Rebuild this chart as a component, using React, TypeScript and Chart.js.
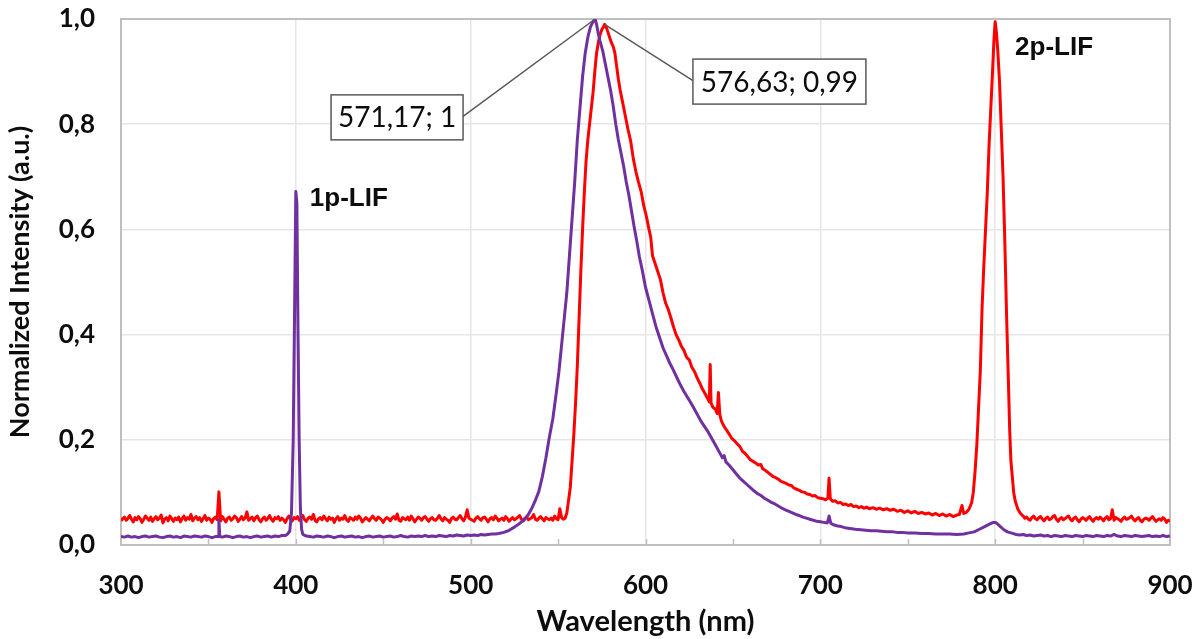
import React, { useEffect, useRef } from 'react';
import { Chart, registerables } from 'chart.js';

Chart.register(...registerables);

// ---------- data ----------
const xTickValues = [300, 400, 500, 600, 700, 800, 900];
const yTickValues = [0, 0.2, 0.4, 0.6, 0.8, 1.0];

// 1p-LIF excitation spectrum (purple): [wavelength nm, normalized intensity]
const purpleBaselineLeft: [number, number][] = [
  [300, .016], [302, .015], [304, .017], [306, .015], [308, .016], [310, .014], [312, .016], [314, .017],
  [316, .015], [318, .016], [320, .017], [322, .015], [324, .014], [326, .016], [328, .017], [330, .015],
  [332, .016], [334, .014], [336, .017], [338, .016], [340, .015], [342, .017], [344, .016], [346, .015],
  [348, .017], [350, .016], [352, .014], [354, .016], [355.5, .016], [356, .048], [356.5, .016], [358, .015],
  [360, .017], [362, .016], [364, .014], [366, .016], [368, .017], [370, .015], [372, .016], [374, .014],
  [376, .016], [378, .017], [380, .015], [382, .016], [384, .017], [386, .015], [388, .017], [390, .016],
  [392, .018], [394, .018], [395, .020],
];
const purpleLaserLine: [number, number][] = [
  [396.5, .026], [397.5, .06], [398.5, .2], [399.3, .45], [400, .672], [400.6, .65], [401.2, .42], [401.9, .2],
  [402.6, .07], [403.3, .03], [404, .02],
];
const purpleBaselineMid: [number, number][] = [
  [406, .017], [408, .016], [410, .015], [412, .017], [414, .016], [416, .015], [418, .017], [420, .016],
  [422, .014], [424, .016], [426, .017], [428, .015], [430, .016], [432, .017], [434, .015], [436, .016],
  [438, .014], [440, .016], [442, .017], [444, .015], [446, .016], [448, .017], [450, .015], [452, .016],
  [454, .017], [456, .015], [458, .016], [460, .018], [462, .016], [464, .015], [466, .017], [468, .016],
  [470, .017], [472, .016], [474, .018], [476, .016], [478, .017], [480, .016], [482, .018], [484, .017],
  [486, .016], [488, .018], [490, .017], [492, .019], [494, .018], [496, .017], [498, .019], [500, .018],
  [502, .019], [504, .018], [506, .020], [508, .019], [510, .020], [512, .021], [514, .021],
];
const purpleMainBand: [number, number][] = [
  [516, .022], [519, .024], [522, .028], [525, .034], [528, .041], [531, .049],
  [533, .058], [535, .07], [537, .085], [539, .102], [541, .13], [543, .165], [545, .205], [547, .24],
  [549, .29], [550.5, .33], [552, .38], [553.5, .43], [555, .48], [556.5, .55], [558, .62], [559.5, .69],
  [561, .77], [562.5, .83], [564, .89], [565.5, .935], [567, .965], [568.5, .985], [570, .995], [571.17, 1.0],
  [572, .99], [573, .972], [574, .958], [575.5, .94], [577, .915], [578.5, .89], [580, .865], [581.5, .835],
  [583, .80], [584.5, .77], [586, .745], [587.5, .72], [589, .69], [590.5, .665], [592, .635], [593.5, .605],
  [595, .578], [596.5, .548], [598, .525], [600, .49], [602, .465], [604, .44], [606, .415], [608, .395],
  [610, .375], [612, .36], [614, .345], [616, .332], [618, .318], [620, .304], [622, .292], [624, .281],
  [626, .27], [628, .258], [630, .246], [632, .234], [634, .224], [636, .214], [638, .202], [640, .19],
  [642, .178], [644, .166], [645, .17], [646, .158], [648, .151], [650, .143], [652, .135], [654, .127],
  [656, .121], [658, .115], [660, .109], [662, .103], [664, .098], [666, .094], [668, .089], [670, .085],
  [672, .081], [674, .078], [676, .074], [678, .07], [680, .067], [682, .064], [684, .061], [686, .058],
  [688, .056], [690, .053], [692, .051], [694, .049], [696, .047], [698, .045], [700, .044], [702, .043],
  [704, .042], [705, .055], [706, .041], [708, .038], [710, .036], [712, .035], [714, .033], [716, .032],
  [718, .031], [720, .030], [723, .029], [726, .028], [729, .027], [732, .027], [735, .026], [738, .025],
  [741, .025], [744, .024], [747, .024], [750, .023], [754, .023], [758, .022], [762, .022], [766, .021],
  [770, .021], [774, .021], [778, .020], [782, .021], [785, .023], [788, .025], [791, .030], [794, .035],
  [797, .040], [799, .043], [800, .043], [801, .041], [803, .035], [805, .029], [807, .025],
];
const purpleBaselineRight: [number, number][] = [
  [810, .022], [812, .020], [814, .019], [816, .020], [818, .018], [820, .019], [822, .017], [824, .018],
  [826, .019], [828, .017], [830, .018], [832, .016], [834, .018], [836, .017], [838, .016], [840, .018],
  [842, .017], [844, .016], [846, .018], [848, .017], [850, .016], [852, .018], [854, .017], [856, .016],
  [858, .018], [860, .017], [862, .016], [864, .018], [866, .017], [868, .020], [870, .017], [872, .016],
  [874, .018], [876, .017], [878, .016], [880, .018], [882, .017], [884, .016], [886, .017], [888, .018],
  [890, .016], [892, .017], [894, .016], [896, .018], [898, .016], [900, .017],
];

// 2p-LIF excitation spectrum (red): baseline below the main band
const redBaselineLeft: [number, number][] = [
  [300, .046], [301, .050], [302, .053], [303, .047], [304, .051], [305, .056], [306, .049], [307, .044],
  [308, .052], [309, .048], [310, .054], [311, .050], [312, .043], [313, .049], [314, .055], [315, .051],
  [316, .047], [317, .053], [318, .045], [319, .050], [320, .054], [321, .048], [322, .051], [323, .057],
  [324, .042], [325, .049], [326, .052], [327, .046], [328, .055], [329, .050], [330, .045], [331, .051],
  [332, .048], [333, .053], [334, .044], [335, .050], [336, .055], [337, .047], [338, .052], [339, .049],
  [340, .058], [341, .046], [342, .051], [343, .054], [344, .048], [345, .052], [346, .045], [347, .050],
  [348, .056], [349, .047], [350, .051], [351, .049], [352, .043], [353, .050], [354, .053], [355, .048],
  [356, .101], [357, .046], [358, .054], [359, .049], [360, .044], [361, .051], [362, .053], [363, .047],
  [364, .050], [365, .055], [366, .052], [367, .045], [368, .049], [369, .054], [370, .048], [371, .051],
  [372, .063], [373, .047], [374, .050], [375, .053], [376, .046], [377, .052], [378, .055], [379, .048],
  [380, .044], [381, .050], [382, .053], [383, .047], [384, .051], [385, .056], [386, .049], [387, .045],
  [388, .052], [389, .050], [390, .054], [391, .047], [392, .051], [393, .048], [394, .043], [395, .050],
  [396, .055], [397, .049], [398, .046], [399, .052], [400, .050], [401, .054], [402, .047], [403, .051],
  [404, .056], [405, .048], [406, .045], [407, .051], [408, .053], [409, .049], [410, .058], [411, .047],
  [412, .044], [413, .050], [414, .052], [415, .048], [416, .055], [417, .050], [418, .046], [419, .053],
  [420, .049], [421, .051], [422, .043], [423, .050], [424, .054], [425, .047], [426, .051], [427, .049],
  [428, .056], [429, .048], [430, .045], [431, .052], [432, .050], [433, .047], [434, .053], [435, .049],
  [436, .055], [437, .051], [438, .044], [439, .048], [440, .052], [441, .049], [442, .046], [443, .051],
  [444, .055], [445, .050], [446, .047], [447, .053], [448, .051], [449, .048], [450, .043], [451, .049],
  [452, .052], [453, .050], [454, .046], [455, .051], [456, .054], [457, .049], [458, .059], [459, .047],
  [460, .045], [461, .052], [462, .050], [463, .048], [464, .053], [465, .047], [466, .055], [467, .050],
  [468, .044], [469, .049], [470, .053], [471, .051], [472, .047], [473, .052], [474, .054], [475, .049],
  [476, .045], [477, .050], [478, .052], [479, .048], [480, .047], [481, .051], [482, .056], [483, .050],
  [484, .046], [485, .052], [486, .049], [487, .047], [488, .043], [489, .050], [490, .053], [491, .049],
  [492, .048], [493, .052], [494, .056], [495, .050], [496, .046], [497, .053], [498, .067], [499, .051],
  [500, .049], [501, .047], [502, .045], [503, .051], [504, .054], [505, .050], [506, .047], [507, .052],
  [508, .053], [509, .049], [510, .044], [511, .050], [512, .052], [513, .048], [514, .055], [515, .051],
  [516, .046], [517, .049], [518, .051], [519, .047], [520, .054], [521, .050], [522, .045], [523, .049],
  [524, .052], [525, .048], [526, .050], [527, .053], [528, .056], [529, .049], [530, .046], [531, .051],
  [532, .053], [533, .048], [534, .050], [535, .052], [536, .058], [537, .049], [538, .047], [539, .051],
  [540, .054], [541, .050], [542, .046], [543, .052], [544, .050], [545, .048], [546, .051], [547, .047],
  [548, .055], [549, .050], [550, .048], [551, .069], [552, .052], [553, .049], [554, .051], [555, .061],
];

// red main fluorescence band and tail up to the 2p-LIF line
const redMainBand: [number, number][] = [
  [556, .085], [557, .11], [558, .16], [559, .21], [560, .27], [561, .34], [562, .43], [563, .52],
  [564, .60], [565, .67], [566, .73], [567, .77], [568, .80], [569, .83], [570, .86], [571, .90],
  [572, .935], [573, .955], [574, .97], [575, .98], [576, .985], [576.63, .99], [577.5, .985], [578.5, .975],
  [579.5, .965], [580.5, .955], [581.5, .948], [582.5, .935], [583.5, .91], [584.5, .885], [585.5, .865], [587, .84],
  [588.5, .815], [590, .79], [591.5, .768], [593, .735], [594.5, .71], [596, .69], [597.5, .672], [599, .645],
  [600.5, .625], [602, .60], [603, .585], [604, .55], [605.5, .535], [607, .52], [608.5, .505], [610, .48],
  [611.5, .46], [613, .448], [614.5, .432], [616, .415], [617.5, .40], [619, .39], [620.5, .378], [622, .37],
  [623.5, .357], [625, .352], [626.5, .338], [628, .33], [629.5, .318], [631, .308], [632.5, .297], [634, .288],
  [635.5, .279], [636.5, .272], [637, .343], [637.5, .27], [638.5, .262], [640, .258], [641, .25], [641.7, .29],
  [642.5, .248], [643.5, .235], [645, .225], [646.5, .218], [648, .21], [649.5, .202], [651, .198], [652.5, .192],
  [654, .187], [655.5, .178], [657, .174], [658.5, .168], [660, .162], [661.5, .159], [663, .156], [664.5, .152],
  [666, .153], [667, .145], [668.5, .142], [670, .138], [671.5, .134], [673, .130], [674.5, .128], [676, .125],
  [677.5, .121], [679, .119], [680.5, .117], [682, .114], [683.5, .113], [685, .108], [686.5, .106], [688, .104],
  [689.5, .101], [691, .100], [692.5, .097], [694, .096], [695.5, .093], [697, .094], [698.5, .090], [700, .089],
  [701.5, .088], [703, .086], [704.3, .089], [705, .127], [705.7, .088], [707, .083], [708.5, .084], [710, .080],
  [711.5, .081], [713, .077], [714.5, .078], [716, .075], [717.5, .077], [719, .073], [720.5, .074], [722, .071],
  [723.5, .073], [725, .070], [726.5, .072], [728, .069], [730, .071], [732, .068], [734, .070], [736, .067],
  [738, .069], [740, .066], [742, .068], [744, .064], [746, .066], [748, .062], [750, .065], [752, .061],
  [754, .064], [756, .060], [758, .062], [760, .059], [762, .061], [764, .057], [766, .060], [768, .056],
  [770, .059], [772, .055], [774, .058], [776, .054], [778, .057], [779.5, .058], [781, .075], [782, .060],
  [783.5, .062], [785, .068],
];

// red 2p-LIF line and the baseline after it
const redLaserLine: [number, number][] = [
  [786.5, .08], [787.5, .10], [788.5, .14], [789.5, .19], [790.5, .26], [791.5, .33], [792.5, .45], [793.5, .53],
  [794.5, .60], [795.5, .67], [796.5, .76], [797.5, .83], [798.5, .90], [799.3, .96], [800, .995], [800.7, .975],
  [801.5, .94], [802.5, .88], [803.5, .79], [804.5, .70], [805.5, .58], [806.5, .44], [807.5, .32], [808.3, .22],
  [809, .16], [809.8, .13], [810.6, .10], [811.5, .083], [813, .068], [814.5, .06],
];
const redBaselineRight: [number, number][] = [
  [816, .055], [817, .051], [818, .053], [819, .049], [820, .047], [821, .052], [822, .055], [823, .050],
  [824, .048], [825, .052], [826, .054], [827, .049], [828, .046], [829, .051], [830, .053], [831, .048],
  [832, .050], [833, .054], [834, .056], [835, .049], [836, .045], [837, .050], [838, .052], [839, .048],
  [840, .050], [841, .053], [842, .055], [843, .049], [844, .046], [845, .051], [846, .053], [847, .048],
  [848, .044], [849, .049], [850, .052], [851, .050], [852, .047], [853, .051], [854, .054], [855, .049],
  [856, .045], [857, .050], [858, .052], [859, .049], [860, .053], [861, .050], [862, .046], [863, .051],
  [864, .054], [865, .048], [866, .050], [867, .067], [868, .047], [869, .052], [870, .050], [871, .048],
  [872, .045], [873, .050], [874, .053], [875, .049], [876, .050], [877, .052], [878, .055], [879, .049],
  [880, .046], [881, .050], [882, .052], [883, .047], [884, .044], [885, .049], [886, .051], [887, .050],
  [888, .047], [889, .051], [890, .054], [891, .049], [892, .045], [893, .048], [894, .050], [895, .047],
  [896, .052], [897, .049], [898, .043], [899, .047], [900, .045],
];

// data callouts
const calloutPointX = [571.17, 576.63];
const calloutPointY = [1, 0.99];
const calloutLabels = ['571,17; 1', '576,63; 0,99'];

// peak names
const peakNames = ['1p-LIF', '2p-LIF'];
const peakNameX = [408, 811.4];
const peakNameY = [0.658, 0.946];

// ---------- styles ----------
const PURPLE = '#7030A0';
const RED = '#FF0000';
const GRID = '#E6E6E6';
const FRAME = '#BFBFBF';
const TEXT = '#0D0D0D';
const FONT_TICK = 'Lato';
const FONT_LABEL = '"Liberation Sans", Arial, sans-serif';

// callout box layout (box centre in data units, box size in px)
const calloutBoxes = [
  { cx: 457.9, cy: 0.813, w: 132, h: 45, side: 'right' as const },
  { cx: 676.6, cy: 0.881, w: 173, h: 45, side: 'left' as const },
];

const toPoints = (arr: [number, number][]) => arr.map(([x, y]) => ({ x, y }));

const decorPlugin = {
  id: 'decor',
  beforeDatasetsDraw(chart: any) {
    const { ctx, chartArea: a, scales } = chart;
    const xs = scales.x;
    ctx.save();
    ctx.strokeStyle = FRAME;
    ctx.lineWidth = 1.5;
    for (let v = 350; v < 900; v += 50) {
      const px = Math.round(xs.getPixelForValue(v)) + 0.5;
      ctx.beginPath();
      ctx.moveTo(px, a.bottom);
      ctx.lineTo(px, a.bottom - 6);
      ctx.stroke();
    }
    ctx.lineWidth = 2;
    ctx.strokeRect(a.left, a.top, a.right - a.left, a.bottom - a.top);
    ctx.restore();
  },
  afterDatasetsDraw(chart: any) {
    const { ctx, scales } = chart;
    const xs = scales.x;
    const ys = scales.y;
    ctx.save();
    ctx.fillStyle = TEXT;
    ctx.font = `bold 26px ${FONT_LABEL}`;
    ctx.textAlign = 'left';
    ctx.textBaseline = 'middle';
    peakNames.forEach((t, i) => {
      ctx.fillText(t, xs.getPixelForValue(peakNameX[i]), ys.getPixelForValue(peakNameY[i]));
    });
    calloutLabels.forEach((t, i) => {
      const b = calloutBoxes[i];
      const px = xs.getPixelForValue(calloutPointX[i]);
      const py = ys.getPixelForValue(calloutPointY[i]);
      const bx = xs.getPixelForValue(b.cx);
      const by = ys.getPixelForValue(b.cy);
      const left = bx - b.w / 2;
      const top = by - b.h / 2;
      const ax = b.side === 'right' ? left + b.w : left;
      ctx.strokeStyle = '#595959';
      ctx.lineWidth = 1.5;
      ctx.beginPath();
      ctx.moveTo(ax, by - 1);
      ctx.lineTo(px, py);
      ctx.stroke();
      ctx.fillStyle = '#FFFFFF';
      ctx.fillRect(left, top, b.w, b.h);
      ctx.strokeRect(left, top, b.w, b.h);
      ctx.fillStyle = TEXT;
      ctx.font = `28px ${FONT_TICK}`;
      ctx.textAlign = 'center';
      ctx.textBaseline = 'middle';
      ctx.fillText(t, bx, by + 1);
    });
    ctx.restore();
  },
};

export default function App() {
  const canvasRef = useRef<HTMLCanvasElement | null>(null);

  useEffect(() => {
    if (!canvasRef.current) return;
    const chart = new Chart(canvasRef.current, {
      type: 'line',
      data: {
        datasets: [
          {
            label: '1p-LIF',
            data: toPoints([
              ...purpleBaselineLeft, ...purpleLaserLine, ...purpleBaselineMid,
              ...purpleMainBand, ...purpleBaselineRight,
            ]),
            borderColor: PURPLE,
            borderWidth: 3,
            borderJoinStyle: 'round',
            pointRadius: 0,
            tension: 0,
          },
          {
            label: '2p-LIF',
            data: toPoints([...redBaselineLeft, ...redMainBand, ...redLaserLine, ...redBaselineRight]),
            borderColor: RED,
            borderWidth: 3,
            borderJoinStyle: 'round',
            pointRadius: 0,
            tension: 0,
          },
        ],
      },
      options: {
        animation: false,
        responsive: false,
        layout: { padding: { top: 19, right: 32, left: 0, bottom: 0 } },
        plugins: { legend: { display: false }, tooltip: { enabled: false } },
        scales: {
          x: {
            type: 'linear',
            min: 300,
            max: 900,
            afterBuildTicks: (s: any) => { s.ticks = xTickValues.map((v) => ({ value: v })); },
            afterFit: (s: any) => { s.height = 94; },
            ticks: {
              color: TEXT,
              font: { family: FONT_TICK, size: 26, weight: 'bold' },
              padding: 0,
              callback: (v: any) => String(v),
              maxRotation: 0,
            },
            grid: { color: GRID, lineWidth: 1.5, drawTicks: true, tickLength: 25, tickColor: 'rgba(0,0,0,0)' },
            border: { display: false },
            title: {
              display: true,
              text: 'Wavelength (nm)',
              color: TEXT,
              font: { family: FONT_TICK, size: 29, weight: 'bold' },
              padding: { top: 0, bottom: 0 },
            },
          },
          y: {
            type: 'linear',
            min: 0,
            max: 1,
            afterBuildTicks: (s: any) => { s.ticks = yTickValues.map((v) => ({ value: v })); },
            afterFit: (s: any) => { s.width = 121; },
            ticks: {
              color: TEXT,
              font: { family: FONT_TICK, size: 26, weight: 'bold' },
              padding: 0,
              callback: (v: any) => Number(v).toFixed(1).replace('.', ','),
            },
            grid: { color: GRID, lineWidth: 1.5, drawTicks: true, tickLength: 26, tickColor: 'rgba(0,0,0,0)' },
            border: { display: false },
            title: {
              display: true,
              text: 'Normalized Intensity (a.u.)',
              color: TEXT,
              font: { family: FONT_TICK, size: 27, weight: 'bold' },
              padding: { top: 4, bottom: 0 },
            },
          },
        },
      },
      plugins: [decorPlugin],
    });
    return () => chart.destroy();
  }, []);

  return (
    <div style={{ position: 'fixed', left: 0, top: 0, width: 1202, height: 639, background: '#fff' }}>
      <canvas ref={canvasRef} width={1202} height={639} style={{ width: 1202, height: 639, display: 'block' }} />
    </div>
  );
}
